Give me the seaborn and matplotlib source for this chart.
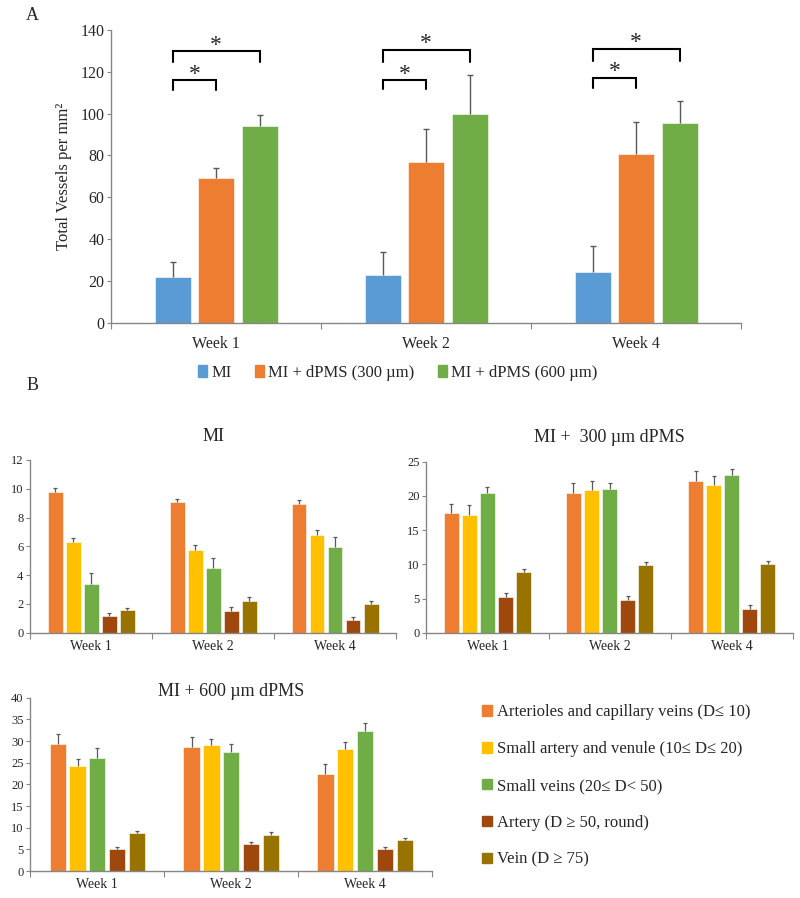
import numpy as np
import pandas as pd
import matplotlib
matplotlib.use('Agg')
import matplotlib.pyplot as plt
import seaborn as sns
from matplotlib.patches import Patch

sns.set_style('white')
plt.rcParams['font.family'] = ['Liberation Serif', 'DejaVu Serif']

weeks = ['Week 1', 'Week 2', 'Week 4']

# Panel A: total vessels per mm^2
groups_a = ['MI', 'MI + dPMS (300 µm)', 'MI + dPMS (600 µm)']
colors_a = ['#5B9BD5', '#ED7D31', '#70AD47']
total_means = [[22, 23, 24.5],
               [69.5, 77, 80.5],
               [94, 100, 95.5]]
total_errs = [[7, 11, 12.5],
              [4.5, 15.5, 15.5],
              [5.5, 18.5, 10.5]]
# significance brackets (MI vs 300, MI vs 600): leg bottom, top
small_brackets = [[111, 116], [111.5, 116], [112, 117]]
big_brackets = [[124.5, 129.7], [124.5, 130.5], [125, 131]]

# Panel B: vessel types
vessel_types = ['Arterioles and capillary veins (D≤ 10)',
                'Small artery and venule (10≤ D≤ 20)',
                'Small veins (20≤ D< 50)',
                'Artery (D ≥ 50, round)',
                'Vein (D ≥ 75)']
colors_b = ['#ED7D31', '#FFC000', '#70AD47', '#9E480E', '#997300']

mi_means = [[9.75, 9.05, 8.93],
            [6.28, 5.77, 6.82],
            [3.4, 4.47, 5.92],
            [1.15, 1.53, 0.88],
            [1.55, 2.2, 1.97]]
mi_errs = [[0.28, 0.25, 0.3],
           [0.32, 0.32, 0.32],
           [0.72, 0.74, 0.74],
           [0.2, 0.23, 0.23],
           [0.2, 0.25, 0.2]]

d300_means = [[17.5, 20.37, 22.2],
              [17.25, 20.86, 21.6],
              [20.47, 21.05, 23.0],
              [5.17, 4.78, 3.41],
              [8.82, 9.9, 10.09]]
d300_errs = [[1.36, 1.46, 1.46],
             [1.35, 1.36, 1.36],
             [0.9, 0.78, 0.88],
             [0.63, 0.58, 0.58],
             [0.44, 0.4, 0.4]]

d600_means = [[29.23, 28.7, 22.5],
              [24.2, 29.0, 28.1],
              [26.2, 27.46, 32.3],
              [5.08, 6.15, 5.08],
              [8.85, 8.3, 7.15]]
d600_errs = [[2.3, 2.15, 2.2],
             [1.6, 1.5, 1.6],
             [2.1, 1.9, 1.85],
             [0.5, 0.55, 0.5],
             [0.5, 0.6, 0.55]]

AXC = '#868686'
ERRC = '#595959'


def long_df(means, hues):
    rows = []
    for hue, vals in zip(hues, means):
        for wk, v in zip(weeks, vals):
            rows.append({'week': wk, 'group': hue, 'value': v})
    return pd.DataFrame(rows)


def bar_panel(ax, means, errs, hues, colors, width, gap, ymax, ystep,
              tick_fs, week_fs, capsize, elw):
    df = long_df(means, hues)
    sns.barplot(data=df, x='week', y='value', hue='group', order=weeks,
                hue_order=hues, palette=colors, width=width, gap=gap,
                saturation=1, errorbar=None, legend=False, ax=ax,
                edgecolor='white', linewidth=0.4)
    # one-sided (upper) error bars
    for cont, m, e in zip(ax.containers, means, errs):
        xs = np.array([b.get_x() + b.get_width() / 2 for b in cont])
        tops = np.array(m) + np.array(e)
        ax.vlines(xs, m, tops, color=ERRC, lw=elw, zorder=3)
        ax.plot(xs, tops, ls='none', marker='_', ms=capsize, mew=elw,
                color=ERRC, zorder=3)
    ax.set_xlim(-0.5, 2.5)
    ax.set_ylim(0, ymax)
    ax.set_yticks(np.arange(0, ymax + 0.01, ystep))
    ax.tick_params(axis='y', labelsize=tick_fs, length=3, width=0.8,
                   color=AXC, direction='out', left=True, pad=2)
    ax.set_xticks([-0.5, 0.5, 1.5, 2.5], ['', '', '', ''])
    ax.set_xticks([0, 1, 2], weeks, minor=True)
    ax.tick_params(axis='x', which='major', length=4, width=0.8,
                   color=AXC, direction='out', bottom=True)
    ax.tick_params(axis='x', which='minor', length=0, labelsize=week_fs,
                   pad=5)
    for s in ['top', 'right']:
        ax.spines[s].set_visible(False)
    for s in ['left', 'bottom']:
        ax.spines[s].set_color(AXC)
        ax.spines[s].set_linewidth(1)
    ax.set_xlabel('')
    ax.set_ylabel('')


fig = plt.figure(figsize=(8, 8.98), dpi=100)

# ---- Panel A
axA = fig.add_axes([0.139, 0.640, 0.7875, 0.327])
bar_panel(axA, total_means, total_errs, groups_a, colors_a, 0.62, 0.17,
          140, 20, 11.5, 11.5, 5, 1)
axA.set_ylabel('Total Vessels per mm²', fontsize=12, labelpad=6)
axA.tick_params(axis='x', which='minor', pad=9)

for j in range(len(weeks)):
    x0 = axA.containers[0][j].get_x() + axA.containers[0][j].get_width() / 2
    x1 = axA.containers[1][j].get_x() + axA.containers[1][j].get_width() / 2
    x2 = axA.containers[2][j].get_x() + axA.containers[2][j].get_width() / 2
    for (lo, hi), xe in [(small_brackets[j], x1), (big_brackets[j], x2)]:
        axA.plot([x0, x0, xe, xe], [lo, hi, hi, lo], color='black', lw=1.5,
                 solid_joinstyle='miter', clip_on=False)
        axA.text((x0 + xe) / 2, hi + 0.2, '*', ha='center', va='baseline',
                 fontsize=17)

handles_a = [Patch(color=c) for c in colors_a]
fig.legend(handles_a, groups_a, loc='center', bbox_to_anchor=(0.497, 0.5846),
           ncol=3, frameon=False, fontsize=12, handlelength=0.55,
           handleheight=0.7, handletextpad=0.25, columnspacing=1.4)

# ---- Panel B
axMI = fig.add_axes([0.038, 0.2954, 0.457, 0.1924])
bar_panel(axMI, mi_means, mi_errs, vessel_types, colors_b, 0.74, 0.18,
          12, 2, 9, 10, 3.5, 0.9)
axMI.set_title('MI', fontsize=13, pad=14)

ax300 = fig.add_axes([0.533, 0.2954, 0.458, 0.1905])
bar_panel(ax300, d300_means, d300_errs, vessel_types, colors_b, 0.74, 0.18,
          25, 5, 9, 10, 3.5, 0.9)
ax300.set_title('MI +  300 µm dPMS', fontsize=13, pad=14)

ax600 = fig.add_axes([0.038, 0.030, 0.502, 0.193])
bar_panel(ax600, d600_means, d600_errs, vessel_types, colors_b, 0.74, 0.18,
          40, 5, 9, 10, 3.5, 0.9)
ax600.set_title('MI + 600 µm dPMS', fontsize=13, pad=1)

handles_b = [Patch(color=c) for c in colors_b]
fig.legend(handles_b, vessel_types, loc='center left',
           bbox_to_anchor=(0.584, 0.1247), frameon=False, fontsize=12,
           handlelength=0.6, handleheight=0.6, handletextpad=0.3,
           labelspacing=1.25)

fig.text(0.041, 0.983, 'A', fontsize=13, ha='center', va='center')
fig.text(0.041, 0.571, 'B', fontsize=13, ha='center', va='center')

fig.savefig('out.png', dpi=100)
